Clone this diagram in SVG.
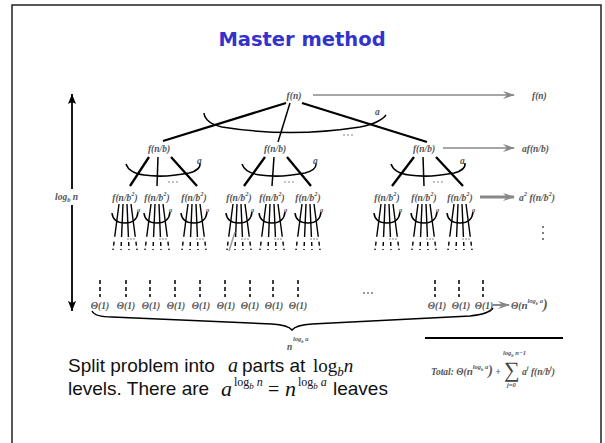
<svg xmlns="http://www.w3.org/2000/svg" xmlns:xlink="http://www.w3.org/1999/xlink" width="605" height="443" viewBox="0 0 605 443">
<style>
.lbl{font-family:"Liberation Serif",serif;font-style:italic;font-weight:bold;font-size:9.5px;fill:#555}
.sm{font-size:6.5px}
.k{stroke:#000;fill:none;stroke-width:1.5}
.thick{stroke-width:2.3}
.g{stroke:#888;fill:none}
.dash{stroke:#000;stroke-width:1.5;stroke-dasharray:4 3}
.body{font-family:"Liberation Sans",Arial,sans-serif;font-size:19px;fill:#111}
.m{font-family:"Liberation Serif","Times New Roman",serif;fill:#111}
</style>
<defs>
<marker id="ga" viewBox="0 0 12 8" refX="11" refY="4" markerWidth="12" markerHeight="8" markerUnits="userSpaceOnUse" orient="auto">
<path d="M0,0 L12,4 L0,8 L4,4 z" fill="#888"/>
</marker>
<marker id="ka" viewBox="0 0 10 8" refX="10" refY="4" markerWidth="10" markerHeight="8" markerUnits="userSpaceOnUse" orient="auto-start-reverse">
<path d="M10,4 L0,0 L2,4 L0,8 z" fill="#000"/>
</marker>
<g id="fan">
<path d="M-6,7 L-12,53 M-2,7 L-4,53 M2,7 L4,53 M6,7 L12,53" stroke="#000" stroke-width="1.4" fill="none" stroke-dasharray="33 5 4 3 4 3"/>
<path d="M-13,16 Q-12,26 0,26 Q12,26 13,15" class="k" stroke-width="1.3"/>
<path d="M2,42 h2 M5,42 h2 M8,42 h2" stroke="#888" stroke-width="1"/>
</g>
</defs>
<rect width="605" height="443" fill="#fff"/>
<rect x="12" y="5" width="589" height="460" fill="none" stroke="#222" stroke-width="1.5"/>
<text x="302" y="46" text-anchor="middle" font-family="'DejaVu Sans',Verdana,sans-serif" font-weight="bold" font-size="19.5" fill="#3333CC">Master method</text>

<g id="connectors">
<path class="k thick" d="M286,103 L163,141"/>
<path class="k" d="M290,103 L278,142"/>
<path class="k thick" d="M302,103 L427,142"/>
<path class="k" d="M204,113 Q205,123 222,127 Q290,138 360,127 Q380,123 386,115"/>
<path d="M343,135 h2 M347,135 h2 M351,135 h2" stroke="#888" stroke-width="1.2"/>
<path class="k thick" d="M149,157 L130,186 M171,157 L197,186"/>
<path class="k" d="M158,157 L157,186"/>
<path class="k" d="M126,164 Q129,173 144,175 Q164,178 189,173 Q201,170 200,163"/>
<path d="M168,182 h2 M172,182 h2 M176,182 h2" stroke="#888" stroke-width="1.2"/>
<path class="k thick" d="M265,157 L244,186 M287,157 L311,186"/>
<path class="k" d="M274,157 L272,186"/>
<path class="k" d="M242,164 Q245,173 260,175 Q280,178 305,173 Q317,170 316,163"/>
<path d="M284,182 h2 M288,182 h2 M292,182 h2" stroke="#888" stroke-width="1.2"/>
<path class="k thick" d="M414,157 L392,186 M436,157 L463,186"/>
<path class="k" d="M423,157 L424,186"/>
<path class="k" d="M391,164 Q394,173 409,175 Q429,178 454,173 Q466,170 465,163"/>
<path d="M433,182 h2 M437,182 h2 M441,182 h2" stroke="#888" stroke-width="1.2"/>
<use xlink:href="#fan" x="125" y="197"/>
<use xlink:href="#fan" x="157" y="197"/>
<use xlink:href="#fan" x="194" y="197"/>
<use xlink:href="#fan" x="239" y="197"/>
<use xlink:href="#fan" x="272" y="197"/>
<use xlink:href="#fan" x="308" y="197"/>
<use xlink:href="#fan" x="387" y="197"/>
<use xlink:href="#fan" x="424" y="197"/>
<use xlink:href="#fan" x="460" y="197"/>
<path d="M235,232 L229,251" stroke="#999" stroke-width="1.5"/>
<path class="dash" d="M100,280 V297 M126,280 V297 M150,280 V297 M175,280 V297 M200,280 V297 M225,280 V297 M250,280 V297 M273,280 V297 M298,280 V297 M435,280 V297 M459,280 V297 M483,280 V297"/>
<path d="M363,293 h2 M367,293 h2 M371,293 h2" stroke="#777" stroke-width="1.5"/>
<path class="k" stroke-width="1.3" d="M92,311 Q95,317 112,317 L272,324 Q288,325 292,330 Q296,325 312,324 L470,316 Q489,314 493,308"/>
<path class="g" stroke-width="1.6" d="M313,95 L514,95" marker-end="url(#ga)"/>
<path class="g" stroke-width="1.6" d="M443,148 L514,148" marker-end="url(#ga)"/>
<path class="g" stroke-width="3" d="M480,197 L514,197" marker-end="url(#ga)"/>
<path class="g" stroke-width="2" d="M493,305 L509,305" marker-end="url(#ga)"/>
<path d="M543,226 v2 M543,232 v2 M543,238 v2" stroke="#555" stroke-width="1.5"/>
<path d="M72,94 L72,189 M72,205 L72,311" stroke="#000" stroke-width="1.8" fill="none" marker-start="url(#ka)" marker-end="url(#ka)"/>
<path d="M425,338 L563,338" stroke="#000" stroke-width="2"/>
</g>

<g id="root"><text class="lbl" x="294" y="99" text-anchor="middle">f(n)</text></g>
<g id="l1a"><text class="lbl" x="159" y="152" text-anchor="middle">f(n/b)</text><text class="lbl" x="197" y="164">a</text></g>
<g id="l1b"><text class="lbl" x="275" y="152" text-anchor="middle">f(n/b)</text><text class="lbl" x="313" y="164">a</text></g>
<g id="l1c"><text class="lbl" x="424" y="152" text-anchor="middle">f(n/b)</text><text class="lbl" x="460" y="164">a</text></g>
<g id="a0"><text class="lbl" x="375" y="115">a</text></g>
<g id="l2">
<text class="lbl" x="125" y="201" text-anchor="middle">f(n/b<tspan class="sm" dy="-5">2</tspan><tspan dy="5">)</tspan></text>
<text class="lbl" x="157" y="201" text-anchor="middle">f(n/b<tspan class="sm" dy="-5">2</tspan><tspan dy="5">)</tspan></text>
<text class="lbl" x="194" y="201" text-anchor="middle">f(n/b<tspan class="sm" dy="-5">2</tspan><tspan dy="5">)</tspan></text>
<text class="lbl" x="239" y="201" text-anchor="middle">f(n/b<tspan class="sm" dy="-5">2</tspan><tspan dy="5">)</tspan></text>
<text class="lbl" x="272" y="201" text-anchor="middle">f(n/b<tspan class="sm" dy="-5">2</tspan><tspan dy="5">)</tspan></text>
<text class="lbl" x="308" y="201" text-anchor="middle">f(n/b<tspan class="sm" dy="-5">2</tspan><tspan dy="5">)</tspan></text>
<text class="lbl" x="387" y="201" text-anchor="middle">f(n/b<tspan class="sm" dy="-5">2</tspan><tspan dy="5">)</tspan></text>
<text class="lbl" x="424" y="201" text-anchor="middle">f(n/b<tspan class="sm" dy="-5">2</tspan><tspan dy="5">)</tspan></text>
<text class="lbl" x="460" y="201" text-anchor="middle">f(n/b<tspan class="sm" dy="-5">2</tspan><tspan dy="5">)</tspan></text>
<text class="lbl sm" x="137" y="212">a</text><text class="lbl sm" x="169" y="212">a</text><text class="lbl sm" x="206" y="212">a</text>
<text class="lbl sm" x="251" y="212">a</text><text class="lbl sm" x="284" y="212">a</text><text class="lbl sm" x="320" y="212">a</text>
<text class="lbl sm" x="399" y="212">a</text><text class="lbl sm" x="436" y="212">a</text><text class="lbl sm" x="472" y="212">a</text>
</g>
<g id="leaves">
<text class="lbl" x="100" y="309" text-anchor="middle">Θ(1)</text>
<text class="lbl" x="126" y="309" text-anchor="middle">Θ(1)</text>
<text class="lbl" x="151" y="309" text-anchor="middle">Θ(1)</text>
<text class="lbl" x="176" y="309" text-anchor="middle">Θ(1)</text>
<text class="lbl" x="201" y="309" text-anchor="middle">Θ(1)</text>
<text class="lbl" x="226" y="309" text-anchor="middle">Θ(1)</text>
<text class="lbl" x="250" y="309" text-anchor="middle">Θ(1)</text>
<text class="lbl" x="274" y="309" text-anchor="middle">Θ(1)</text>
<text class="lbl" x="298" y="309" text-anchor="middle">Θ(1)</text>
<text class="lbl" x="437" y="309" text-anchor="middle">Θ(1)</text>
<text class="lbl" x="461" y="309" text-anchor="middle">Θ(1)</text>
<text class="lbl" x="484" y="309" text-anchor="middle">Θ(1)</text>
</g>
<g id="leafcount"><text class="lbl" x="287" y="350">n</text><text class="lbl sm" x="293" y="341">log<tspan dy="2" font-size="4.5">b</tspan><tspan dy="-2"> a</tspan></text></g>
<g id="height"><text class="lbl" x="55" y="200">log<tspan class="sm" dy="2">b</tspan><tspan dy="-2"> n</tspan></text></g>
<g id="sums">
<text class="lbl" x="532" y="99">f(n)</text>
<text class="lbl" x="522" y="152">af(n/b)</text>
<text class="lbl" x="519" y="201">a<tspan class="sm" dy="-5">2</tspan><tspan dy="5"> f(n/b</tspan><tspan class="sm" dy="-5">2</tspan><tspan dy="5">)</tspan></text>
<text class="lbl" x="511" y="309">Θ(<tspan font-size="11">n</tspan><tspan class="sm" dy="-6">log<tspan font-size="4.5" dy="2">b</tspan><tspan dy="-2"> a</tspan></tspan><tspan font-size="14" dy="6">)</tspan></text>
</g>
<g id="total">
<text class="lbl" x="431" y="375">Total: Θ(<tspan font-size="11">n</tspan><tspan class="sm" dy="-6">log<tspan font-size="4.5" dy="2">b</tspan><tspan dy="-2"> a</tspan></tspan><tspan font-size="14" dy="6">)</tspan> +</text>
<text x="504" y="377" font-family="'Liberation Serif',serif" font-size="22" fill="#444">∑</text>
<text class="lbl sm" x="503" y="355">log<tspan font-size="4.5" dy="2">b</tspan><tspan dy="-2"> n−1</tspan></text>
<text class="lbl sm" x="507" y="387">j=0</text>
<text class="lbl" x="522" y="375">a<tspan class="sm" dy="-5">j</tspan><tspan dy="5"> f(n/b</tspan><tspan class="sm" dy="-5">j</tspan><tspan dy="5">)</tspan></text>
</g>
<g id="caption">
<text class="body" x="68" y="372">Split problem into</text>
<text class="m" x="228" y="372" font-size="20" font-style="italic">a</text>
<text class="body" x="242" y="372">parts at</text>
<text class="m" x="313" y="372" font-size="19">log<tspan font-size="13" font-style="italic" dy="4">b</tspan><tspan font-style="italic" dy="-4">n</tspan></text>
<text class="body" x="68" y="395">levels. There are</text>
<text class="m" x="221" y="396" font-size="22" font-style="italic">a</text>
<text class="m" x="234" y="386" font-size="12">log<tspan font-size="9" font-style="italic" dy="3">b</tspan><tspan font-style="italic" dy="-3"> n</tspan></text>
<text class="m" x="268" y="396" font-size="20">=</text>
<text class="m" x="285" y="396" font-size="22" font-style="italic">n</text>
<text class="m" x="298" y="386" font-size="12">log<tspan font-size="9" font-style="italic" dy="3">b</tspan><tspan font-style="italic" dy="-3"> a</tspan></text>
<text class="body" x="333" y="395">leaves</text>
</g>
</svg>
